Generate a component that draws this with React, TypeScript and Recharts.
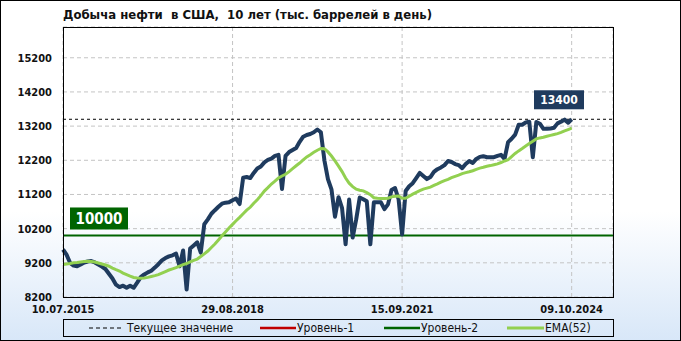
import React from "react";
import { LineChart, Line, XAxis, YAxis, CartesianGrid, ReferenceLine } from "recharts";

// weekly points, index 0 = 10.07.2015
const dateTicks = [0, 48, 96, 144];
const dateLabels = ["10.07.2015", "29.08.2018", "15.09.2021", "09.10.2024"];
const yTicks = [8200, 9200, 10200, 11200, 12200, 13200, 14200, 15200];

const production = [
  9590, 9440, 9200, 9120, 9100, 9150, 9210, 9240, 9250, 9210,
  9150, 9090, 9020, 8880, 8740, 8560, 8490, 8530, 8470, 8530,
  8470, 8620, 8780, 8860, 8920, 8970, 9060, 9160, 9270, 9340,
  9390, 9420, 9470, 9100, 9560, 8420, 9620, 9710, 9800, 9500,
  10330, 10470, 10635, 10740, 10840, 10930, 10960, 10970, 11030, 11080,
  10920, 11690, 11710, 11680, 11830, 11960, 12020, 12140, 12210, 12250,
  12330, 12360, 11360, 12330, 12440, 12500, 12560, 12740, 12890, 12940,
  12970, 13020, 13100, 13020, 12200, 11650, 11350, 10550, 11120, 10800,
  9740, 11050, 9940, 10470, 11110, 11060, 11000, 9740, 10970, 10970,
  10970, 10770, 10910, 11330, 11390, 11060, 10030, 11300, 11440, 11530,
  11680, 11830, 11740, 11650, 11710, 11860, 11940, 11990, 12060, 12180,
  12150, 12090, 12060, 11970, 12090, 12180, 12120, 12240, 12300, 12320,
  12290, 12290, 12290, 12330, 12360, 12240, 12730, 12830, 12950, 13240,
  13240, 13310, 13330, 12290, 13320, 13270, 13120, 13120, 13130, 13150,
  13280, 13330, 13390, 13300, 13400,
];

const ema52 = [
  9150, 9165, 9180, 9200, 9210, 9225, 9240, 9245, 9240, 9225,
  9195, 9165, 9135, 9100, 9045, 9000, 8960, 8900, 8855, 8810,
  8770, 8755, 8750, 8755, 8775, 8800, 8825, 8855, 8900, 8945,
  8990, 9025, 9060, 9105, 9145, 9180, 9225, 9270, 9310, 9385,
  9460, 9545, 9650, 9750, 9870, 9990, 10105, 10220, 10325, 10430,
  10530, 10635, 10740, 10825, 10945, 11045, 11165, 11300, 11400, 11505,
  11590, 11680, 11740, 11790, 11870, 11955, 12040, 12120, 12210, 12300,
  12365, 12435, 12495, 12545, 12540, 12445, 12325, 12180, 12030, 11870,
  11680, 11530, 11430, 11355, 11325, 11305, 11255, 11195, 11105, 11090,
  11080, 11080, 11090, 11130, 11150, 11155, 11090, 11090, 11150, 11210,
  11260, 11310, 11355, 11385, 11415, 11465, 11510, 11560, 11605, 11640,
  11690, 11730, 11765, 11810, 11840, 11865, 11895, 11935, 11970, 11995,
  12025, 12045, 12070, 12095, 12135, 12180, 12215, 12310, 12400, 12475,
  12545, 12620, 12690, 12760, 12825, 12855, 12875, 12905, 12930, 12955,
  12980, 13015, 13060, 13100, 13140,
];

const currentValue = 13400;
const level2 = 10000;

const data = production.map((v, i) => ({ i, value: v, ema: ema52[i] }));

const FONT = "Tahoma, 'DejaVu Sans Condensed', 'DejaVu Sans', sans-serif";
const NAVY = "#1f3b5e";

const CurrentLabel = (props: any) => {
  const { viewBox } = props;
  const right = viewBox.x + viewBox.width;
  const y = viewBox.y;
  return (
    <g>
      <rect x={right - 79} y={y - 29} width={50} height={19} fill={NAVY} />
      <text x={right - 54} y={y - 15} textAnchor="middle" fill="#fff" fontWeight="bold" fontSize={12} fontFamily={FONT}>
        {currentValue}
      </text>
    </g>
  );
};

const LevelLabel = (props: any) => {
  const { viewBox } = props;
  const y = viewBox.y;
  return (
    <g>
      <rect x={viewBox.x + 7} y={y - 28} width={58} height={22} fill="#006400" />
      <text x={viewBox.x + 36} y={y - 11} textAnchor="middle" fill="#fff" fontWeight="bold" fontSize={15} fontFamily={FONT}>
        {level2}
      </text>
    </g>
  );
};

const tickStyle = { fontSize: 11, fontWeight: "bold", fill: "#111", fontFamily: FONT };

export default function App() {
  return (
    <div style={{ position: "absolute", left: 0, top: 0, width: 681, height: 341 }}>
      <svg width={681} height={341} style={{ position: "absolute", left: 0, top: 0 }}>
        <defs>
          <linearGradient id="bg" x1="0" y1="0" x2="0" y2="1">
            <stop offset="0%" stopColor="#ffffff" />
            <stop offset="62%" stopColor="#ffffff" />
            <stop offset="100%" stopColor="#d8e7f8" />
          </linearGradient>
        </defs>
        <rect x={0.5} y={0.5} width={680} height={340} fill="url(#bg)" stroke="#000" />
      </svg>
      <div style={{ position: "absolute", left: 0, top: 0 }}>
        <LineChart width={681} height={341} data={data} margin={{ top: 27, right: 0, bottom: 24, left: 0 }}>
          <CartesianGrid stroke="#c4c4c4" strokeDasharray="4 3" yAxisId="left" />
          <XAxis
            dataKey="i"
            type="number"
            domain={[0, 155.7]}
            ticks={dateTicks}
            tickFormatter={(v: number) => dateLabels[dateTicks.indexOf(v)] ?? ""}
            height={20}
            tickSize={0}
            tickMargin={8}
            axisLine={false}
            tick={tickStyle}
            interval={0}
          />
          <YAxis
            yAxisId="left"
            domain={[8200, 16100]}
            ticks={yTicks}
            width={63}
            tickSize={0}
            tickMargin={11}
            axisLine={false}
            tick={tickStyle}
            interval={0}
          />
          <YAxis
            yAxisId="right"
            orientation="right"
            domain={[8200, 16100]}
            ticks={yTicks}
            width={68}
            tickSize={0}
            tickMargin={13}
            axisLine={false}
            tick={tickStyle}
            interval={0}
          />
          <ReferenceLine yAxisId="left" y={currentValue} stroke="#000" strokeDasharray="3 3" label={<CurrentLabel />} />
          <ReferenceLine yAxisId="left" y={level2} stroke="#006400" strokeWidth={2} label={<LevelLabel />} />
          <Line
            yAxisId="left"
            dataKey="value"
            stroke={NAVY}
            strokeWidth={4}
            strokeLinejoin="round"
            dot={false}
            activeDot={false}
            isAnimationActive={false}
          />
          <Line
            yAxisId="left"
            dataKey="ema"
            stroke="#92d050"
            strokeWidth={3}
            dot={false}
            activeDot={false}
            isAnimationActive={false}
          />
        </LineChart>
      </div>
      <svg width={681} height={341} style={{ position: "absolute", left: 0, top: 0, pointerEvents: "none" }}>
        <text x={63} y={19} fontFamily={FONT} fontWeight="bold" fontSize={13} fill="#111" style={{ whiteSpace: "pre" }}>
          {"Добыча нефти  в США,  10 лет (тыс. баррелей в день)"}
        </text>
        <rect x={63.5} y={27.5} width={550} height={270} fill="none" stroke="#000" />
        <rect x={63.5} y={319.5} width={550} height={17} fill="none" stroke="#000" />
        <g fontFamily={FONT} fontSize={12} fill="#111">
          <line x1={89} x2={122} y1={328} y2={328} stroke="#000" strokeDasharray="4 3" />
          <text x={127} y={332}>Текущее значение</text>
          <line x1={260} x2={296} y1={328} y2={328} stroke="#c00000" strokeWidth={2.5} />
          <text x={297} y={332}>Уровень-1</text>
          <line x1={384} x2={420} y1={328} y2={328} stroke="#006400" strokeWidth={2.5} />
          <text x={421} y={332}>Уровень-2</text>
          <line x1={507} x2={544} y1={328} y2={328} stroke="#92d050" strokeWidth={3} />
          <text x={545} y={332}>EMA(52)</text>
        </g>
      </svg>
    </div>
  );
}
